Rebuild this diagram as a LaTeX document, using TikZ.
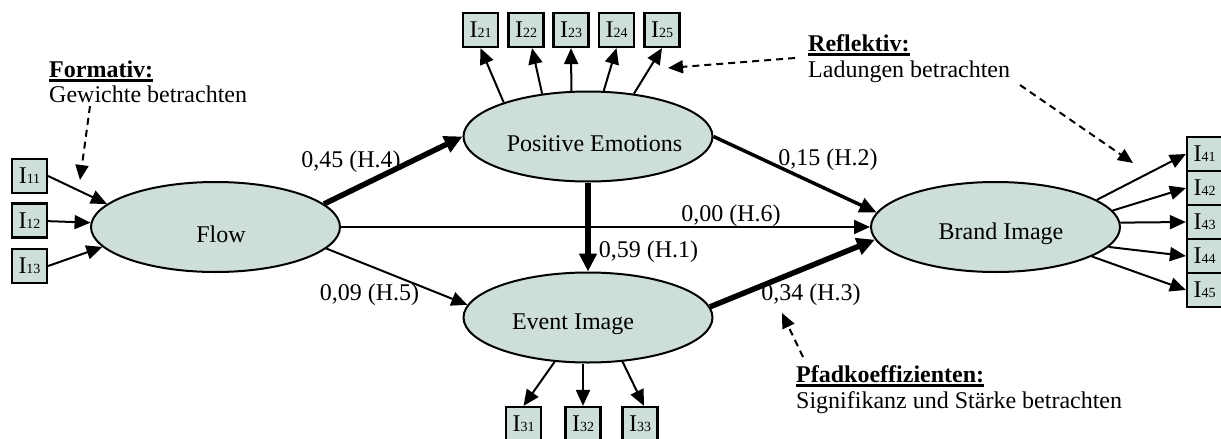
\documentclass[tikz,border=0pt]{standalone}
\usepackage{fontspec}
\setmainfont{Liberation Serif}
\usetikzlibrary{arrows.meta,shapes.geometric}
\definecolor{lvfill}{RGB}{206,222,218}
\newcommand{\idx}[1]{I{\fontsize{14}{14}\selectfont #1}}
\begin{document}
\begin{tikzpicture}[x=1pt,y=-1pt,
  every node/.style={font=\fontsize{24}{28}\selectfont},
  lv/.style={ellipse, draw, line width=2pt, fill=lvfill, minimum width=249pt, minimum height=90pt, inner sep=0pt},
  ind/.style={rectangle, draw, line width=2.2pt, fill=lvfill, minimum width=35pt, minimum height=34pt, inner sep=0pt},
  arr/.style={line width=2pt, -{Triangle[length=16pt,width=14pt]}},
  thk/.style={line width=5.5pt, -{Triangle[length=18pt,width=17pt]}},
  med/.style={line width=3.5pt, -{Triangle[length=17pt,width=15pt]}},
  dsh/.style={line width=2pt, dash pattern=on 7pt off 5pt, -{Triangle[length=15pt,width=13pt]}},
  txt/.style={inner sep=0pt, anchor=base west},
  hd/.style={txt, font=\fontsize{24}{28}\selectfont\bfseries},
  elab/.style={inner sep=0pt, anchor=base},
  ltxt/.style={anchor=base, inner sep=0pt, yshift=-7pt}
]
\useasboundingbox (0,0) rectangle (1221,439);
\clip (0,0) rectangle (1221,439);

% latent variables
\node[lv, label={[ltxt, xshift=5.5pt]center:Flow}] (Flow) at (215.5,227) {};
\node[lv, label={[ltxt, xshift=6.5pt]center:Positive Emotions}] (PE) at (588,136.5) {};
\node[lv, label={[ltxt, xshift=-15pt]center:Event Image}] (EI) at (588,317.5) {};
\node[lv, label={[ltxt, xshift=5.5pt]center:Brand Image}] (BI) at (995.5,227) {};

% indicators
\node[ind] (I11) at (29.5,176) {\idx{11}};
\node[ind] (I12) at (29.5,220.5) {\idx{12}};
\node[ind] (I13) at (29.5,266) {\idx{13}};
\node[ind] (I21) at (480.5,30) {\idx{21}};
\node[ind] (I22) at (526,30) {\idx{22}};
\node[ind] (I23) at (571,30) {\idx{23}};
\node[ind] (I24) at (616.5,30) {\idx{24}};
\node[ind] (I25) at (662,30) {\idx{25}};
\node[ind] (I31) at (523.5,424) {\idx{31}};
\node[ind] (I32) at (583,424) {\idx{32}};
\node[ind] (I33) at (640,424) {\idx{33}};
\node[ind] (I41) at (1204.5,154) {\idx{41}};
\node[ind] (I42) at (1204.5,188) {\idx{42}};
\node[ind] (I43) at (1204.5,222) {\idx{43}};
\node[ind] (I44) at (1204.5,256) {\idx{44}};
\node[ind] (I45) at (1204.5,290) {\idx{45}};

% formative indicators
\draw[arr] (I11.east) -- (Flow.168);
\draw[arr] (I12) -- (Flow);
\draw[arr] (I13.east) -- (Flow.190);

% reflective indicators
\draw[arr] (PE.158) -- (I21.south);
\draw[arr] (PE.137) -- ([xshift=6pt]I22.south);
\draw[arr] (PE.110) -- (I23.south);
\draw[arr] (PE.71) -- (I24.south);
\draw[arr] (PE.43) -- (I25.south);
\draw[arr] (EI.233) -- (I31.north);
\draw[arr] (EI.south -| I32.north) -- (I32.north);
\draw[arr] (EI.308) -- ([xshift=4pt]I33.north);
\draw[arr] (BI.15) -- (I41.west);
\draw[arr] (BI.8) -- (I42.west);
\draw[arr] (BI.2) -- (I43.west);
\draw[arr] (BI.350) -- (I44.west);
\draw[arr] (BI.343) -- (I45.west);

% structural paths
\draw[thk] (Flow.12) -- (PE.west);
\draw[arr] (Flow.east) -- (BI.west);
\draw[arr] (Flow.349) -- (EI.174);
\draw[thk] (PE.south) -- (EI.north);
\draw[med] (PE.east) -- (BI.173);
\draw[thk] (EI.5) -- (BI.186);

% path labels
\node[elab] (l4) at (351,167) {0,45 (H.4)};
\node[elab] (l5) at (369.5,300) {0,09 (H.5)};
\node[elab] (l6) at (731,221) {0,00 (H.6)};
\node[elab] (l1) at (648.5,257) {0,59 (H.1)};
\node[elab] (l2) at (828,165) {0,15 (H.2)};
\node[elab] (l3) at (811,300) {0,34 (H.3)};

% annotations
\node[hd] (form) at (49,77) {Formativ:};
\draw[line width=2.5pt] ([yshift=-3.5pt]form.base west) -- ([yshift=-3.5pt]form.base east);
\node[txt] (formt) at (49,102) {Gewichte betrachten};
\node[hd] (refl) at (808,51) {Reflektiv:};
\draw[line width=2.5pt] ([yshift=-3.5pt]refl.base west) -- ([yshift=-3.5pt]refl.base east);
\node[txt] (reflt) at (808,77) {Ladungen betrachten};
\node[hd] (pfad) at (796,382) {Pfadkoeffizienten:};
\draw[line width=2.5pt] ([yshift=-3.5pt]pfad.base west) -- ([yshift=-3.5pt]pfad.base east);
\node[txt] (pfadt) at (796,408) {Signifikanz und Stärke betrachten};

% dashed pointers
\coordinate (fa) at (90,106);
\coordinate (fb) at (80,180);
\coordinate (ra) at (795,58);
\coordinate (rb) at (668,68);
\coordinate (rc) at (1020,85);
\coordinate (rd) at (1133,163);
\coordinate (pa) at (803,357);
\coordinate (pb) at (782,313);
\draw[dsh] (fa) -- (fb);
\draw[dsh] (ra) -- (rb);
\draw[dsh] (rc) -- (rd);
\draw[dsh] (pa) -- (pb);
\end{tikzpicture}
\end{document}
